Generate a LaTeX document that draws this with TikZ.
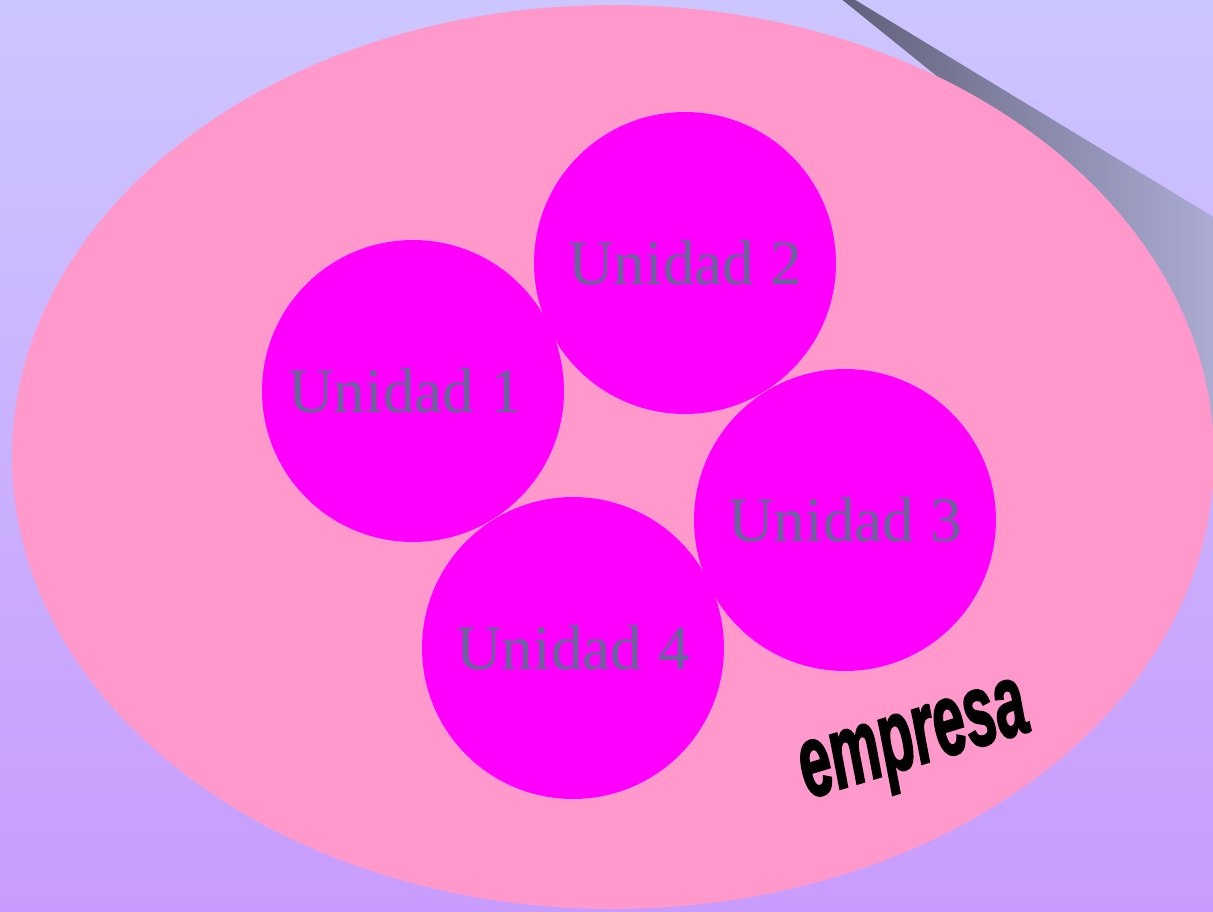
\documentclass[tikz,border=0pt]{standalone}
\usepackage{fontspec}
\setmainfont{Liberation Serif}
\newfontfamily\empfont[BoldItalicFeatures={FakeBold=2.5}]{Liberation Sans}
\definecolor{fondoarriba}{RGB}{204,198,254}
\definecolor{fondoabajo}{RGB}{200,156,254}
\definecolor{rosa}{RGB}{255,153,204}
\definecolor{magenta}{RGB}{255,0,255}
\definecolor{letra}{RGB}{102,102,153}
\definecolor{sombraosc}{RGB}{96,96,122}
\definecolor{sombraclara}{RGB}{172,172,212}
\tikzset{
  unidad/.style={circle,fill=magenta,minimum size=6.04cm,inner sep=0pt,
    text=letra,font=\fontsize{36}{36}\selectfont},
}
\begin{document}
\begin{tikzpicture}[x=0.02cm,y=-0.02cm]
\useasboundingbox (0,0) rectangle (1213,912);
\clip (0,0) rectangle (1213,912);
% fondo
\shade[top color=fondoarriba,bottom color=fondoabajo] (0,0) rectangle (1213,912);
% sombra arriba a la derecha
\shade[left color=sombraosc,right color=sombraclara]
  (840,-2) -- (852,-2) -- (1215,218) -- (1215,480) -- (1135,236) -- cycle;
% empresa
\fill[rosa] (613,457) ellipse[x radius=601,y radius=452];
\node[unidad] (u2) at (685,263) {Unidad 2};
\node[unidad] (u1) at (413,391) {\hspace*{-0.32cm}Unidad 1};
\node[unidad] (u4) at (573,648) {Unidad 4};
\node[unidad] (u3) at (845,520) {Unidad 3};
\node[rotate=17,xscale=0.56,font=\empfont\bfseries\itshape\fontsize{58}{58}\selectfont]
  (emp) at (916,748) {empresa};
\end{tikzpicture}
\end{document}
